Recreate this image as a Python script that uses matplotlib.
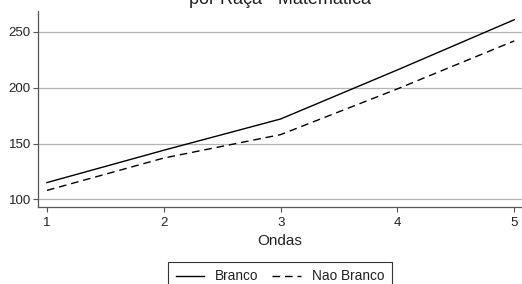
import matplotlib
matplotlib.use("Agg")
import matplotlib.pyplot as plt

ondas = [1, 2, 3, 4, 5]
branco = [115, 144, 172, 216, 261]
nao_branco = [108, 137, 158, 199, 242]
yticks = [100, 150, 200, 250]
title = "por Raça - Matemática"

plt.rcParams['font.family'] = ['Liberation Sans', 'DejaVu Sans']

W, H = 522, 284
fig = plt.figure(figsize=(W/100, H/100), dpi=100)
ax = fig.add_axes([38/W, (H-207)/H, (W-38)/W, 196/H])

ax.plot(ondas, branco, color='black', lw=1.0, label='Branco', zorder=3)
ax.plot(ondas, nao_branco, color='black', lw=1.0, ls=(0, (5.5, 3.5)), label='Nao Branco', zorder=3)

ax.set_xlim(0.923, 5.066)
ax.set_ylim(93.1, 268.8)
ax.set_xticks(ondas)
ax.set_yticks(yticks)
ax.yaxis.grid(True, color='#b4b4b4', lw=0.9)
ax.set_axisbelow(True)
for s in ['top', 'right']:
    ax.spines[s].set_visible(False)
for s in ['left', 'bottom']:
    ax.spines[s].set_color('#555555')
    ax.spines[s].set_linewidth(0.9)
ax.tick_params(axis='both', direction='out', length=3.6, width=0.8, color='#555555',
               labelsize=9.5, labelcolor='#222222')
ax.tick_params(axis='x', pad=3.5)
ax.tick_params(axis='y', pad=1.5)
ax.set_xlabel('Ondas', fontsize=11, color='#222222', labelpad=4)

fig.text(280/W, 1 - 4/H, title, ha='center', va='baseline', fontsize=13, color='#222222')

leg = fig.legend(loc='upper center', bbox_to_anchor=(280/W, 1 - 262/H), ncol=2,
                 fontsize=9.8, frameon=True, fancybox=False, edgecolor='black',
                 handlelength=2.1, columnspacing=1.0, borderpad=0.55, handletextpad=0.8,
                 borderaxespad=0)
leg.get_frame().set_linewidth(0.8)
for t in leg.get_texts():
    t.set_color('#222222')

fig.savefig('out.png', dpi=100)
